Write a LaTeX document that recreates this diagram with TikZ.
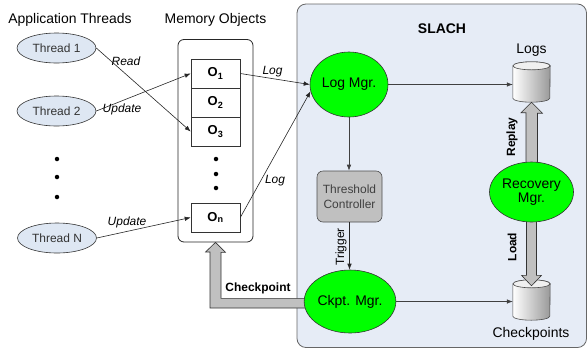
\documentclass[tikz,border=0pt]{standalone}
\usepackage{fontspec}
\setmainfont{Liberation Sans}
\usetikzlibrary{arrows.meta,shapes.geometric,calc}
\pgfdeclarelayer{back}
\pgfdeclarelayer{mid}
\pgfsetlayers{back,mid,main}
\definecolor{slachblue}{RGB}{230,236,246}
\definecolor{threadblue}{RGB}{222,231,243}
\definecolor{mgrgreen}{RGB}{0,255,0}
\definecolor{ctrlgray}{RGB}{192,192,192}
\definecolor{arrowgray}{RGB}{192,192,192}
\begin{document}
\begin{tikzpicture}[x=1bp,y=-1bp,
  big/.style={font=\fontsize{14}{16}\selectfont, inner sep=0},
  thread/.style={ellipse, draw=black!80, line width=0.6bp, fill=threadblue, minimum width=79bp, minimum height=30bp, inner sep=0, font=\fontsize{12}{14}\selectfont, text=black!80},
  obj/.style={rectangle, draw=black!80, line width=0.6bp, fill=white, minimum width=49bp, minimum height=29bp, inner sep=0, font=\fontsize{13}{15}\selectfont\bfseries},
  mgr/.style={ellipse, draw=black!80, line width=0.6bp, fill=mgrgreen, inner sep=0, font=\fontsize{14}{16}\selectfont, align=center},
  conn/.style={draw=black!85, line width=0.6bp, -{Latex[length=6bp,width=4.5bp]}},
  lbl/.style={font=\fontsize{12}{14}\selectfont\itshape, inner sep=0},
  vlbl/.style={font=\fontsize{12}{14}\selectfont, inner sep=0, rotate=90},
  blockarrow/.style={draw=black!80, line width=0.6bp, fill=arrowgray},
  dotmark/.style={circle, fill=black, inner sep=0, minimum size=4.5bp},
  cylbox/.style={inner sep=0, minimum width=37bp, minimum height=40bp}
]
\useasboundingbox (0,0) rectangle (588,349);

% SLACH container
\begin{pgfonlayer}{back}
\node[draw=black!60, line width=0.8bp, fill=slachblue, rounded corners=9bp, minimum width=289.5bp, minimum height=343.5bp, inner sep=0] (slach) at (441.75,175.75) {};
\end{pgfonlayer}
\node[font=\fontsize{14}{16}\selectfont\bfseries, inner sep=0] (slachtitle) at (442,29) {SLACH};

% headings
\node[big] (apphead) at (70,20) {Application Threads};
\node[big] (memhead) at (215.5,20) {Memory Objects};

% threads
\node[thread] (thread1) at (56.5,48) {Thread 1};
\node[thread] (thread2) at (56.5,111) {Thread 2};
\node[thread] (threadN) at (57,238) {Thread N};
\node[dotmark] (td1) at (57,159) {};
\node[dotmark] (td2) at (57,177) {};
\node[dotmark] (td3) at (57,197) {};

% memory objects
\node[draw=black!85, line width=0.8bp, fill=white, rounded corners=6bp, minimum width=75bp, minimum height=202.5bp, inner sep=0] (membox) at (215.5,140.75) {};
\node[obj] (o1) at (215.5,73.5) {O\textsubscript{1}};
\node[obj] (o2) at (215.5,102.5) {O\textsubscript{2}};
\node[obj] (o3) at (215.5,131.5) {O\textsubscript{3}};
\node[obj] (on) at (215.5,217.5) {O\textsubscript{n}};
\node[dotmark] (md1) at (216,159) {};
\node[dotmark] (md2) at (216,174) {};
\node[dotmark] (md3) at (216,188) {};

% managers, controller, storage
\node[cylbox] (logs) at (531.5,82) {};
\node[cylbox] (cps) at (531.5,300) {};
\node[mgr, minimum width=84bp, minimum height=60bp] (recovery) at (531.5,192) {Recovery\\[-2bp]Mgr.};
\node[mgr, minimum width=78bp, minimum height=65bp] (logmgr) at (349,84.5) {Log Mgr.};
\node[draw=black!70, line width=0.6bp, fill=ctrlgray, rounded corners=6bp, minimum width=65bp, minimum height=51bp, inner sep=0, align=center, font=\fontsize{12}{14.5}\selectfont, text=black!75] (threshold) at (349.5,196.5) {Threshold\\Controller};
\node[mgr, minimum width=86bp, minimum height=63bp] (ckpt) at (350,301.5) {Ckpt. Mgr.};

\begin{pgfonlayer}{mid}
% cylinders
\foreach \c in {logs,cps} {
  \path[draw=black!70, line width=0.6bp, left color=white, right color=black!40]
    ($(\c.north west)+(0,4)$) -- ($(\c.south west)+(0,-4)$)
    arc[start angle=180, end angle=0, x radius=18.5, y radius=4]
    -- ($(\c.north east)+(0,4)$)
    arc[start angle=0, end angle=-180, x radius=18.5, y radius=4] -- cycle;
  \draw[black!70, line width=0.6bp, fill=black!6] ($(\c.north)+(0,4)$) ellipse[x radius=18.5, y radius=4];
}
% Replay block arrow
\draw[blockarrow] ([xshift=-5.5bp,yshift=-8bp]recovery.north) -- ++(0,-57) -- ++(-5,0) -- (logs.south) -- ++(11,11) -- ++(-5,0) -- ++(0,57) -- cycle;
% Load block arrow
\draw[blockarrow] ([xshift=-5bp,yshift=8bp]recovery.south) -- ++(0,61) -- ++(-5,0) -- ++(10,10.5) -- ++(10,-10.5) -- ++(-5,0) -- ++(0,-61) -- cycle;
% Checkpoint block arrow
\draw[blockarrow] ([xshift=-33bp,yshift=-6.5bp]ckpt.center) -- ++(-107,0) -- ++(0,-56) -- ++(-4.5,0) -- (membox.south) -- ++(10,10) -- ++(-4.5,0) -- ++(0,46) -- ++(96,0) -- cycle;
\end{pgfonlayer}

\node[big] (logslbl) at (531.5,50) {Logs};
\node[big] (cpslbl) at (531,334) {Checkpoints};

% connectors
\draw[conn] (thread1.east) -- (o3.west);
\draw[conn] (thread2.east) -- (o1.west);
\draw[conn] (threadN.east) -- (on.west);
\draw[conn] (o1.east) -- (logmgr.west);
\draw[conn] (on.east) -- (logmgr.190);
\draw[conn, draw=black!75] (logmgr.east) -- (logmgr.east -| logs.west);
\draw[conn, draw=black!75] (logmgr.south) -- (logmgr.south |- threshold.north);
\draw[conn, draw=black!85] (threshold.south) -- (threshold.south |- ckpt.north);
\draw[conn, draw=black!75] (ckpt.east) -- (ckpt.east -| cps.west);

% labels
\node[lbl] (readlbl) at (126,61) {Read};
\node[lbl] (upd1lbl) at (122,109) {Update};
\node[lbl] (upd2lbl) at (127,222) {Update};
\node[lbl] (log1lbl) at (272.5,72) {Log};
\node[lbl] (log2lbl) at (275,181) {Log};
\node[vlbl] (triglbl) at (341,247) {Trigger};
\node[vlbl, font=\fontsize{12}{14}\selectfont\bfseries] (replaylbl) at (512,137) {Replay};
\node[vlbl, font=\fontsize{12}{14}\selectfont\bfseries] (loadlbl) at (512,247) {Load};
\node[font=\fontsize{12}{14}\selectfont\bfseries, inner sep=0] (ckptlbl) at (258,288) {Checkpoint};
\end{tikzpicture}
\end{document}
